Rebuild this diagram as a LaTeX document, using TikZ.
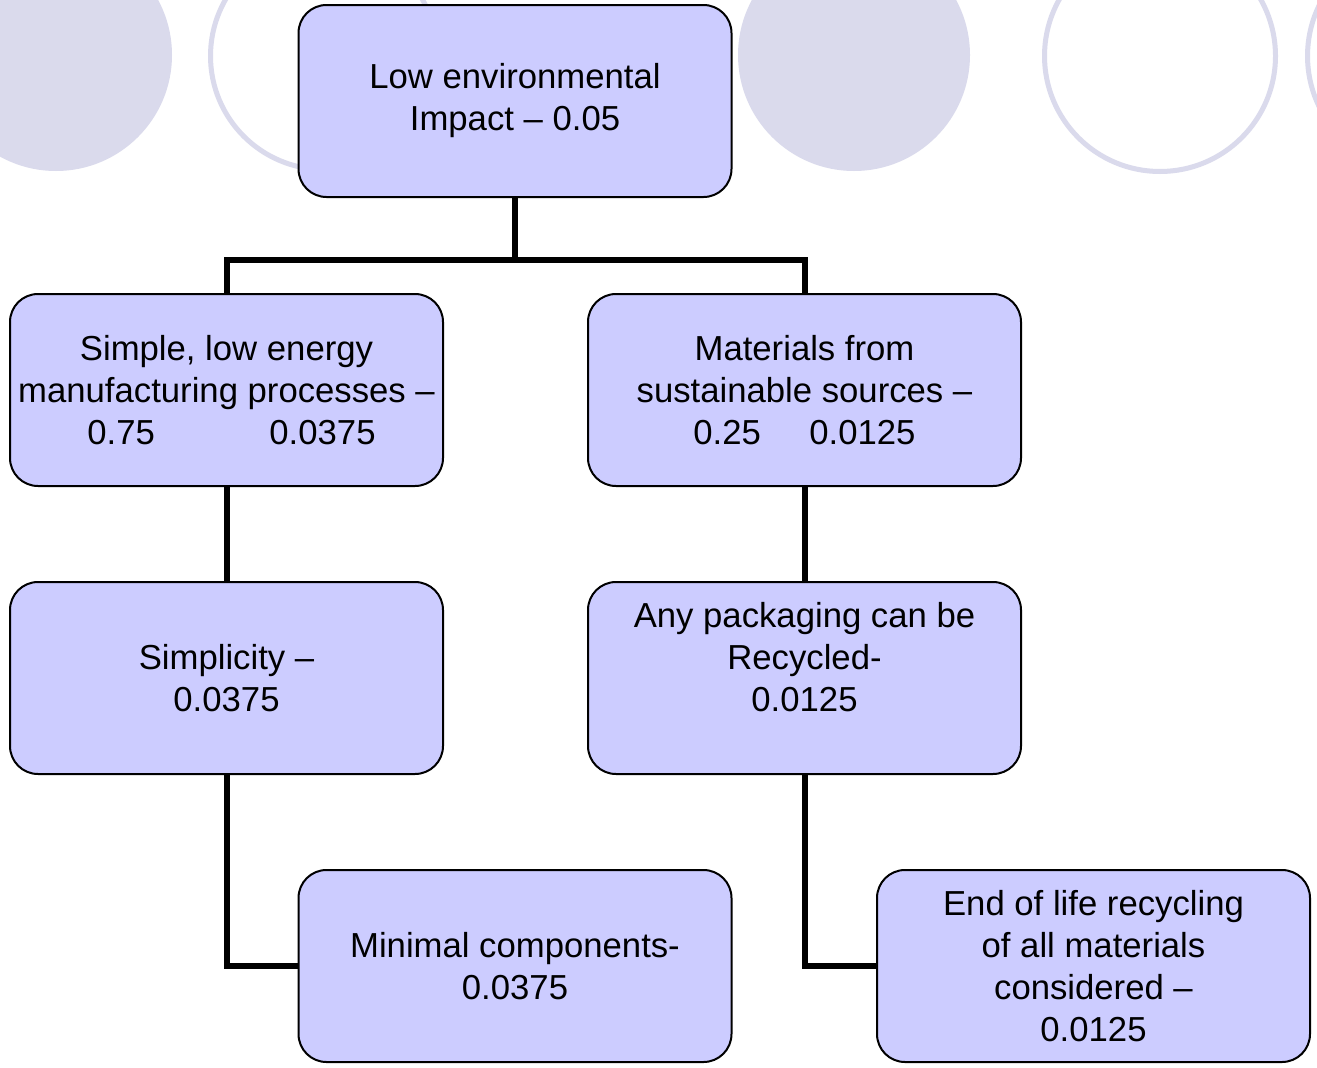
\documentclass[tikz,border=0pt]{standalone}
\usepackage{fontspec}
\setmainfont{Liberation Sans}
\definecolor{boxfill}{RGB}{204,204,255}
\definecolor{ringcol}{RGB}{218,218,236}
\pgfdeclarelayer{back}
\pgfdeclarelayer{wires}
\pgfsetlayers{back,wires,main}
\begin{document}
\begin{tikzpicture}[x=1pt,y=-1pt,
  box/.style={draw=black, line width=2pt, fill=boxfill, rounded corners=28pt,
    minimum width=433pt, minimum height=192pt, align=center, inner sep=0pt,
    font=\fontsize{34.7}{42}\selectfont},
  link/.style={draw=black, line width=6pt},
  disc/.style={fill=ringcol},
  ring/.style={draw=ringcol, line width=5pt}]
\begin{pgfonlayer}{back}
\useasboundingbox[fill=white] (0,0) rectangle (1317,1068);
% decorative circles along the top edge
\fill[disc] (56,55) circle[radius=116pt];
\draw[ring] (324,56) circle[radius=113.5pt];
\fill[disc] (854,55) circle[radius=116pt];
\draw[ring] (1160,56) circle[radius=115.5pt];
\draw[ring] (1423,56) circle[radius=115.5pt];
\end{pgfonlayer}

% boxes
\node[box] (top) at (515,101) {Low environmental\\Impact – 0.05};
\node[box] (l1) at (226.5,390) {Simple, low energy\\manufacturing processes –\\\hspace*{10pt}0.75\hspace{114.5pt}0.0375};
\node[box] (r1) at (804.5,390) {Materials from\\sustainable sources –\\0.25\hspace{48.5pt}0.0125};
\node[box] (l2) at (226.5,678) {Simplicity –\\0.0375};
\node[box] (r2) at (804.5,678) {Any packaging can be\\Recycled-\\0.0125\\~};
\node[box] (l3) at (515,966) {Minimal components-\\0.0375};
\node[box] (r3) at (1093.5,966) {End of life recycling\\of all materials\\considered –\\0.0125};

% connectors, kept beneath the boxes
\coordinate (j) at (515,259.5);
\begin{pgfonlayer}{wires}
\draw[link] (top.south) -- (j);
\draw[link] (l1.north) -- (l1.north |- j) -- (r1.north |- j) -- (r1.north);
\draw[link] (l1.south) -- (l2.north);
\draw[link] (r1.south) -- (r2.north);
\draw[link] (l2.south) |- (l3.west);
\draw[link] (r2.south) |- (r3.west);
\end{pgfonlayer}
\end{tikzpicture}
\end{document}
